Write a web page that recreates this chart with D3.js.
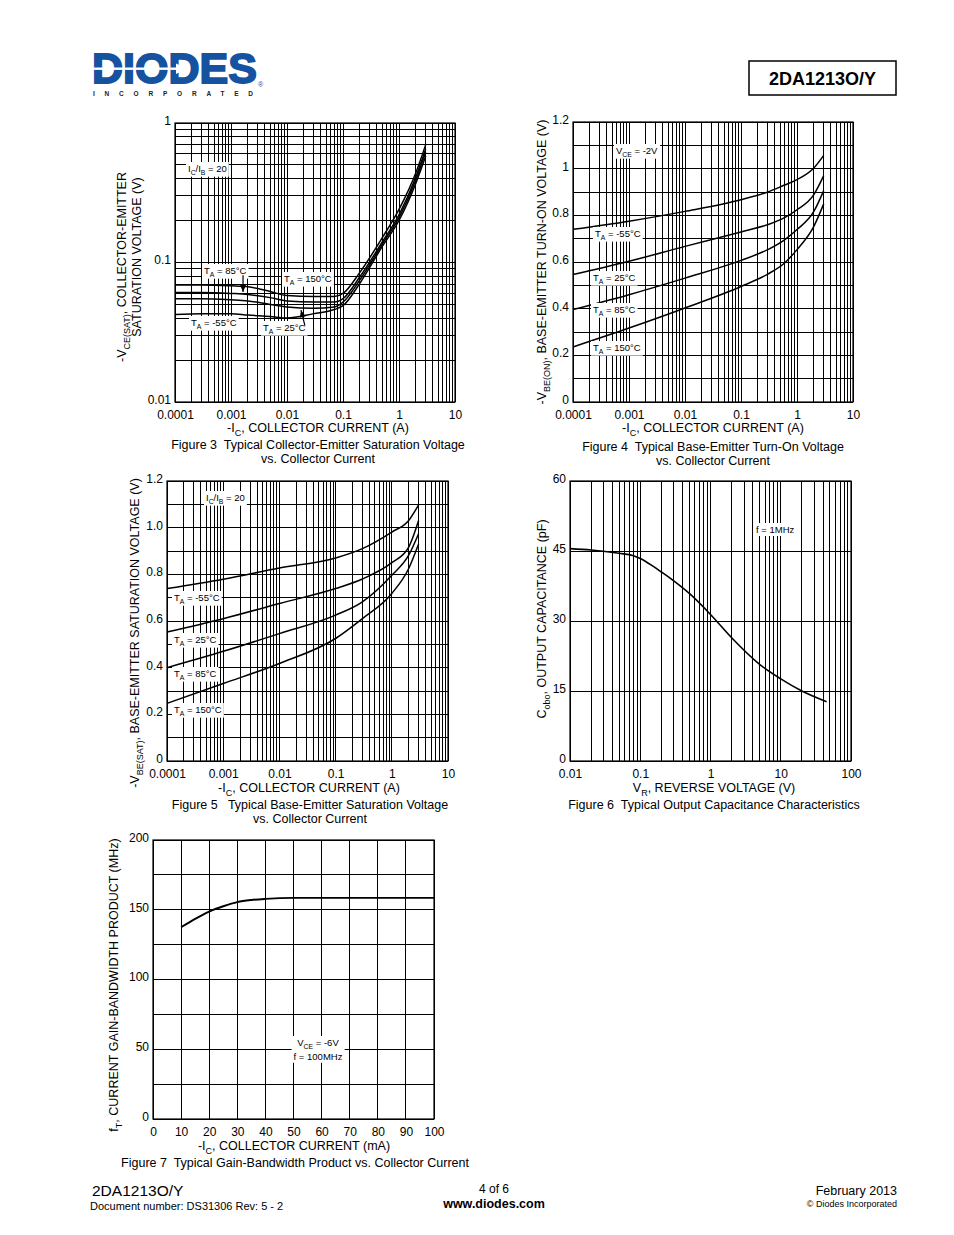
<!DOCTYPE html>
<html>
<head>
<meta charset="utf-8">
<script src="https://cdn.jsdelivr.net/npm/d3@7"></script>
<style>
  body { margin: 0; background: #fff; }
  svg { display: block; font-family: "Liberation Sans", Arial, sans-serif; }
</style>
</head>
<body>
<svg id="page" width="954" height="1235"></svg>
<script>
// ---- data ----
const decadeLabels = ["0.0001", "0.001", "0.01", "0.1", "1", "10"];
const decadeTicks = [0.0001, 0.001, 0.01, 0.1, 1, 10];

// Figure 3: VCE(sat) vs IC
const fig3Ic = [0.0001, 0.0003, 0.001, 0.002, 0.005, 0.01, 0.03, 0.07, 0.1, 0.2, 0.5, 1, 2, 3];
const fig3T150 = [0.069, 0.069, 0.068, 0.067, 0.062, 0.058, 0.057, 0.057, 0.060, 0.085, 0.15, 0.24, 0.44, 0.70];
const fig3T85 = [0.061, 0.061, 0.060, 0.059, 0.056, 0.053, 0.052, 0.052, 0.055, 0.079, 0.14, 0.22, 0.41, 0.65];
const fig3T25 = [0.055, 0.055, 0.054, 0.053, 0.050, 0.048, 0.047, 0.048, 0.052, 0.075, 0.135, 0.21, 0.39, 0.62];
const fig3Tm55 = [0.0424, 0.043, 0.043, 0.042, 0.041, 0.040, 0.043, 0.046, 0.049, 0.071, 0.13, 0.20, 0.37, 0.58];

// Figure 4: VBE(on) vs IC
const fig4Ic = [0.0001, 0.001, 0.01, 0.1, 0.3, 0.6, 1, 2, 3];
const fig4Tm55 = [0.74, 0.775, 0.817, 0.867, 0.90, 0.93, 0.953, 1.003, 1.057];
const fig4T25 = [0.546, 0.603, 0.667, 0.729, 0.76, 0.79, 0.824, 0.889, 0.97];
const fig4T85 = [0.396, 0.46, 0.531, 0.607, 0.653, 0.695, 0.739, 0.817, 0.906];
const fig4T150 = [0.236, 0.317, 0.403, 0.495, 0.548, 0.596, 0.653, 0.753, 0.849];

// Figure 5: VBE(sat) vs IC
const fig5Ic = [0.0001, 0.001, 0.01, 0.1, 0.3, 1, 2, 3];
const fig5Tm55 = [0.739, 0.779, 0.827, 0.870, 0.91, 0.981, 1.031, 1.098];
const fig5T25 = [0.553, 0.61, 0.675, 0.739, 0.78, 0.85, 0.917, 1.031];
const fig5T85 = [0.40, 0.47, 0.546, 0.625, 0.682, 0.796, 0.882, 0.974];
const fig5T150 = [0.247, 0.332, 0.418, 0.525, 0.61, 0.718, 0.825, 0.93];

// Figure 6: Cobo vs VR
const fig6Vr = [0.01, 0.02, 0.05, 0.08, 0.1, 0.15, 0.2, 0.3, 0.5, 1, 2, 5, 10, 20, 45];
const fig6Cobo = [45.5, 45.2, 44.5, 44.0, 43.4, 41.8, 40.5, 38.6, 35.9, 31.4, 26.4, 20.7, 17.6, 15.0, 12.7];
const fig6XTicks = [0.01, 0.1, 1, 10, 100];
const fig6XLabels = ["0.01", "0.1", "1", "10", "100"];
const fig6YTicks = [0, 15, 30, 45, 60];

// Figure 7: fT vs IC
const fig7Ic = [10, 15, 20, 25, 30, 35, 40, 50, 100];
const fig7Ft = [137.5, 143.5, 148.7, 152.5, 155.5, 157, 157.8, 158.5, 158.5];
const fig7XTicks = [0, 10, 20, 30, 40, 50, 60, 70, 80, 90, 100];
const fig7YTicks = [0, 50, 100, 150, 200];

const svg = d3.select('#page');
const NB = '\u00a0';

// text with _{sub} markup
function rich(sel, str, fs) {
  const parts = str.split(/(_\{[^}]*\})/).filter(p => p);
  let down = false;
  parts.forEach(p => {
    const sub = p.startsWith('_{');
    const t = sel.append('tspan').text(sub ? p.slice(2, -1) : p);
    if (sub) {
      t.attr('font-size', fs * 0.72).attr('dy', fs * 0.28);
      down = true;
    } else if (down) {
      t.attr('dy', -fs * 0.28);
      down = false;
    }
  });
  return sel;
}

function txt(g, x, y, str, fs, anchor = 'start', rotate = false) {
  const t = g.append('text')
    .attr('font-size', fs)
    .attr('text-anchor', anchor)
    .attr('fill', '#000');
  if (rotate) t.attr('transform', `translate(${x},${y}) rotate(-90)`);
  else t.attr('x', x).attr('y', y);
  return rich(t, str, fs);
}

// label on a white patch, as the datasheet does inside the grids
function boxed(g, x, y, lines, fs, anchor = 'start') {
  const grp = g.append('g');
  const bg = grp.append('rect').attr('fill', '#fff');
  const tg = grp.append('g');
  lines.forEach((s, i) => txt(tg, x, y + i * fs * 1.45, s, fs, anchor));
  const b = tg.node().getBBox();
  bg.attr('x', b.x - 2).attr('y', b.y - 1).attr('width', b.width + 4).attr('height', b.height + 2);
}

function panel(c) {
  const g = svg.append('g');
  const x = (c.xLog ? d3.scaleLog() : d3.scaleLinear()).domain(c.xDomain).range([c.left, c.right]);
  const y = (c.yLog ? d3.scaleLog() : d3.scaleLinear()).domain(c.yDomain).range([c.bottom, c.top]);

  const grid = g.append('g').attr('stroke', '#000').attr('stroke-width', 1).attr('shape-rendering', 'crispEdges');
  grid.selectAll('.gx').data(c.xGrid(x)).join('line').attr('class', 'gx')
    .attr('x1', d => x(d)).attr('x2', d => x(d)).attr('y1', c.top).attr('y2', c.bottom);
  grid.selectAll('.gy').data(c.yGrid(y)).join('line').attr('class', 'gy')
    .attr('y1', d => y(d)).attr('y2', d => y(d)).attr('x1', c.left).attr('x2', c.right);
  g.append('rect')
    .attr('x', c.left).attr('y', c.top).attr('width', c.right - c.left).attr('height', c.bottom - c.top)
    .attr('fill', 'none').attr('stroke', '#000').attr('stroke-width', 1.2);

  const xa = g.append('g').attr('transform', `translate(0,${c.bottom})`)
    .call(d3.axisBottom(x).tickValues(c.xTicks).tickFormat((d, i) => c.xLabels[i]).tickSize(0).tickPadding(8));
  const ya = g.append('g').attr('transform', `translate(${c.left},0)`)
    .call(d3.axisLeft(y).tickValues(c.yTicks).tickFormat((d, i) => c.yLabels[i]).tickSize(0).tickPadding(4));
  [xa, ya].forEach(a => {
    a.select('.domain').remove();
    a.attr('font-family', null).attr('font-size', null);
    a.selectAll('text').attr('font-size', 12).attr('fill', '#000');
  });
  // the datasheet sets its value labels a little above each gridline
  ya.selectAll('text').attr('dy', '0.12em');
  return { g, x, y };
}

function curve(p, xs, ys, w = 1.5) {
  const line = d3.line().x(d => p.x(d[0])).y(d => p.y(d[1])).curve(d3.curveMonotoneX);
  p.g.append('path').datum(d3.zip(xs, ys)).attr('d', line)
    .attr('fill', 'none').attr('stroke', '#000').attr('stroke-width', w).attr('stroke-linejoin', 'round');
}

function arrow(p, from, to) {
  const x1 = p.x(from[0]), y1 = p.y(from[1]), x2 = p.x(to[0]), y2 = p.y(to[1]);
  const a = Math.atan2(y2 - y1, x2 - x1);
  p.g.append('line').attr('x1', x1).attr('y1', y1).attr('x2', x2).attr('y2', y2)
    .attr('stroke', '#000').attr('stroke-width', 1.2);
  const L = 7, W = 3;
  const pts = [[x2, y2],
    [x2 - L * Math.cos(a) + W * Math.sin(a), y2 - L * Math.sin(a) - W * Math.cos(a)],
    [x2 - L * Math.cos(a) - W * Math.sin(a), y2 - L * Math.sin(a) + W * Math.cos(a)]];
  p.g.append('polygon').attr('points', pts.map(q => q.join(',')).join(' ')).attr('fill', '#000');
}

// ---- header ----
const logo = svg.append('g');
logo.append('text').attr('x', 92).attr('y', 83).attr('font-size', 42.5).attr('font-weight', 'bold')
  .attr('textLength', 165).attr('lengthAdjust', 'spacingAndGlyphs')
  .attr('fill', '#1553a0').attr('stroke', '#1553a0').attr('stroke-width', 1.8).text('DIODES');
logo.append('rect').attr('x', 92).attr('y', 67.5).attr('width', 88).attr('height', 2.4).attr('fill', '#fff');
logo.append('polygon').attr('points', '176,63.5 187,68.7 176,73.9').attr('fill', '#fff');
logo.append('text').attr('x', 258).attr('y', 87).attr('font-size', 7).attr('fill', '#1553a0').text('®');
logo.append('text').attr('x', 93).attr('y', 95.5).attr('font-size', 6.5).attr('font-weight', 'bold')
  .attr('textLength', 160).attr('lengthAdjust', 'spacing').attr('fill', '#222').text('INCORPORATED');

svg.append('rect').attr('x', 749).attr('y', 61).attr('width', 147).attr('height', 34)
  .attr('fill', 'none').attr('stroke', '#000').attr('stroke-width', 1.5);
svg.append('text').attr('x', 822.5).attr('y', 84.5).attr('font-size', 18).attr('font-weight', 'bold')
  .attr('text-anchor', 'middle').text('2DA1213O/Y');

// ---- Figure 3 ----
const p3 = panel({
  left: 175, right: 455, top: 123, bottom: 402,
  xLog: true, xDomain: [0.0001, 10], yLog: true, yDomain: [0.01, 1],
  xGrid: s => s.ticks(), yGrid: s => s.ticks(),
  xTicks: decadeTicks, xLabels: decadeLabels,
  yTicks: [0.01, 0.1, 1], yLabels: ["0.01", "0.1", "1"]
});
[fig3T150, fig3T85, fig3T25, fig3Tm55].forEach(v => curve(p3, fig3Ic, v));
boxed(p3.g, 188, 172, ['I_{C}/I_{B} = 20'], 9.5);
boxed(p3.g, 204, 274, ['T_{A} = 85°C'], 9.5);
boxed(p3.g, 284, 282, ['T_{A} = 150°C'], 9.5);
boxed(p3.g, 191, 326, ['T_{A} = -55°C'], 9.5);
boxed(p3.g, 263, 331, ['T_{A} = 25°C'], 9.5);
arrow(p3, [0.00164, 0.081], [0.00164, 0.0615]);
arrow(p3, [0.0209, 0.0353], [0.0178, 0.0455]);
txt(svg, 126, 267, '-V_{CE(SAT)}, COLLECTOR-EMITTER', 12.5, 'middle', true);
txt(svg, 141, 257, 'SATURATION VOLTAGE (V)', 12.5, 'middle', true);
txt(svg, 318, 432, '-I_{C}, COLLECTOR CURRENT (A)', 12.5, 'middle');
txt(svg, 318, 449, `Figure 3${NB} Typical Collector-Emitter Saturation Voltage`, 12.5, 'middle');
txt(svg, 318, 463, 'vs. Collector Current', 12.5, 'middle');

// ---- Figure 4 ----
const p4 = panel({
  left: 573, right: 853, top: 122, bottom: 402,
  xLog: true, xDomain: [0.0001, 10], yLog: false, yDomain: [0, 1.2],
  xGrid: s => s.ticks(), yGrid: s => s.ticks(12),
  xTicks: decadeTicks, xLabels: decadeLabels,
  yTicks: [0, 0.2, 0.4, 0.6, 0.8, 1, 1.2], yLabels: ["0", "0.2", "0.4", "0.6", "0.8", "1", "1.2"]
});
[fig4Tm55, fig4T25, fig4T85, fig4T150].forEach(v => curve(p4, fig4Ic, v));
boxed(p4.g, 616, 154, ['V_{CE} = -2V'], 9.5);
boxed(p4.g, 595, 237, ['T_{A} = -55°C'], 9.5);
boxed(p4.g, 593, 281, ['T_{A} = 25°C'], 9.5);
boxed(p4.g, 593, 313, ['T_{A} = 85°C'], 9.5);
boxed(p4.g, 593, 351, ['T_{A} = 150°C'], 9.5);
txt(svg, 546, 262, '-V_{BE(ON)}, BASE-EMITTER TURN-ON VOLTAGE (V)', 12.5, 'middle', true);
txt(svg, 713, 432, '-I_{C}, COLLECTOR CURRENT (A)', 12.5, 'middle');
txt(svg, 713, 451, `Figure 4${NB} Typical Base-Emitter Turn-On Voltage`, 12.5, 'middle');
txt(svg, 713, 465, 'vs. Collector Current', 12.5, 'middle');

// ---- Figure 5 ----
const p5 = panel({
  left: 167, right: 448, top: 481, bottom: 761,
  xLog: true, xDomain: [0.0001, 10], yLog: false, yDomain: [0, 1.2],
  xGrid: s => s.ticks(), yGrid: s => s.ticks(12),
  xTicks: decadeTicks, xLabels: decadeLabels,
  yTicks: [0, 0.2, 0.4, 0.6, 0.8, 1, 1.2], yLabels: ["0", "0.2", "0.4", "0.6", "0.8", "1.0", "1.2"]
});
[fig5Tm55, fig5T25, fig5T85, fig5T150].forEach(v => curve(p5, fig5Ic, v));
boxed(p5.g, 206, 501, ['I_{C}/I_{B} = 20'], 9.5);
boxed(p5.g, 174, 601, ['T_{A} = -55°C'], 9.5);
boxed(p5.g, 174, 643, ['T_{A} = 25°C'], 9.5);
boxed(p5.g, 174, 677, ['T_{A} = 85°C'], 9.5);
boxed(p5.g, 174, 713, ['T_{A} = 150°C'], 9.5);
txt(svg, 139, 633, '-V_{BE(SAT)}, BASE-EMITTER SATURATION VOLTAGE (V)', 12.5, 'middle', true);
txt(svg, 309, 792, '-I_{C}, COLLECTOR CURRENT (A)', 12.5, 'middle');
txt(svg, 310, 809, `Figure 5${NB}${NB} Typical Base-Emitter Saturation Voltage`, 12.5, 'middle');
txt(svg, 310, 823, 'vs. Collector Current', 12.5, 'middle');

// ---- Figure 6 ----
const p6 = panel({
  left: 570, right: 851, top: 481, bottom: 761,
  xLog: true, xDomain: [0.01, 100], yLog: false, yDomain: [0, 60],
  xGrid: s => s.ticks(), yGrid: () => fig6YTicks,
  xTicks: fig6XTicks, xLabels: fig6XLabels,
  yTicks: fig6YTicks, yLabels: fig6YTicks.map(String)
});
curve(p6, fig6Vr, fig6Cobo, 1.6);
boxed(p6.g, 756, 533, ['f = 1MHz'], 9.5);
txt(svg, 546, 619, 'C_{obo}, OUTPUT CAPACITANCE (pF)', 12.5, 'middle', true);
txt(svg, 714, 792, 'V_{R}, REVERSE VOLTAGE (V)', 12.5, 'middle');
txt(svg, 714, 809, `Figure 6${NB} Typical Output Capacitance Characteristics`, 12.5, 'middle');

// ---- Figure 7 ----
const p7 = panel({
  left: 153, right: 434, top: 840, bottom: 1119,
  xLog: false, xDomain: [0, 100], yLog: false, yDomain: [0, 200],
  xGrid: () => fig7XTicks, yGrid: () => d3.range(0, 201, 25),
  xTicks: fig7XTicks, xLabels: fig7XTicks.map(String),
  yTicks: fig7YTicks, yLabels: fig7YTicks.map(String)
});
curve(p7, fig7Ic, fig7Ft, 1.9);
boxed(p7.g, 318, 1046, ['V_{CE} = -6V', 'f = 100MHz'], 9.5, 'middle');
txt(svg, 118, 985, 'f_{T}, CURRENT GAIN-BANDWIDTH PRODUCT (MHz)', 12.5, 'middle', true);
txt(svg, 294, 1150, '-I_{C}, COLLECTOR CURRENT (mA)', 12.5, 'middle');
txt(svg, 295, 1167, `Figure 7${NB} Typical Gain-Bandwidth Product vs. Collector Current`, 12.5, 'middle');

// ---- footer ----
svg.append('text').attr('x', 92).attr('y', 1196).attr('font-size', 15.5).text('2DA1213O/Y');
svg.append('text').attr('x', 90).attr('y', 1210).attr('font-size', 11).text('Document number: DS31306 Rev: 5 - 2');
svg.append('text').attr('x', 494).attr('y', 1193).attr('font-size', 12).attr('text-anchor', 'middle').text('4 of 6');
svg.append('text').attr('x', 494).attr('y', 1208).attr('font-size', 12.5).attr('font-weight', 'bold')
  .attr('text-anchor', 'middle').text('www.diodes.com');
svg.append('text').attr('x', 897).attr('y', 1195).attr('font-size', 12.5).attr('text-anchor', 'end').text('February 2013');
svg.append('text').attr('x', 897).attr('y', 1207).attr('font-size', 9).attr('text-anchor', 'end').text('© Diodes Incorporated');
</script>
</body>
</html>
